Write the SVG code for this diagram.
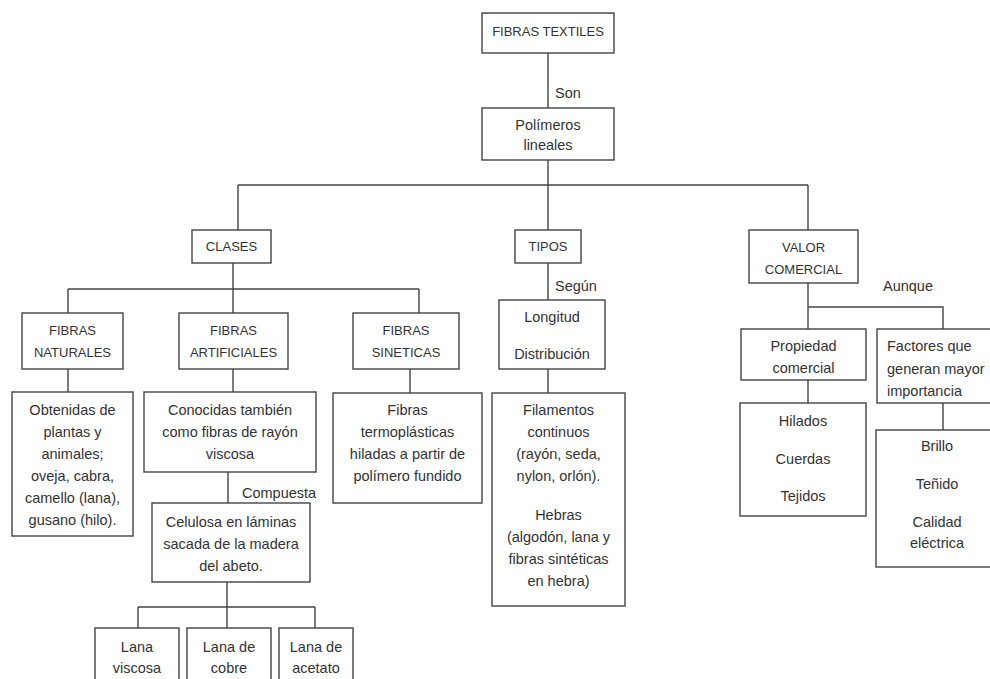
<svg xmlns="http://www.w3.org/2000/svg" width="990" height="679" viewBox="0 0 990 679">
<style>
.b{fill:#fff;stroke:#444;stroke-width:1.4}
.c{fill:none;stroke:#444;stroke-width:1.4}
text{font-family:"Liberation Sans",Arial,sans-serif;font-size:14.5px;fill:#333}
.m{text-anchor:middle}
.k{font-size:13px}
</style>
<rect width="990" height="679" fill="#fff"/>
<g id="connectors" class="c">
<path d="M548 53V108M548 160V185M238 185H808M238 185V230M548 185V230M808 185V230"/>
<path d="M233 263V289M68 289H419M68 289V313M233 289V313M419 289V313"/>
<path d="M68 369V392M233 369V392M228 472V503M227 582V607M138 607H315M138 607V628M227 607V628M315 607V628"/>
<path d="M410 369V393M548 263V300M548 369V393"/>
<path d="M808 283V307H943V329M808 307V329M808 380V403M943 403V430"/>
</g>
<g id="lbl-son"><text x="555" y="98">Son</text></g>
<g id="lbl-segun"><text x="555" y="291">Según</text></g>
<g id="lbl-aunque"><text x="883" y="291">Aunque</text></g>
<g id="lbl-compuesta"><text x="242" y="498">Compuesta</text></g>
<g id="fibras-textiles"><rect class="b" x="482" y="13" width="132" height="40"/><text class="m k" x="548" y="36">FIBRAS TEXTILES</text></g>
<g id="polimeros"><rect class="b" x="482" y="108" width="132" height="52"/><text class="m" x="548" y="130">Polímeros</text><text class="m" x="548" y="150">lineales</text></g>
<g id="clases"><rect class="b" x="192" y="230" width="79" height="33"/><text class="m k" x="231.5" y="251">CLASES</text></g>
<g id="tipos"><rect class="b" x="515" y="230" width="66" height="33"/><text class="m k" x="548" y="251">TIPOS</text></g>
<g id="valor"><rect class="b" x="749" y="230" width="109" height="53"/><text class="m k" x="803.5" y="252">VALOR</text><text class="m k" x="803.5" y="274">COMERCIAL</text></g>
<g id="naturales"><rect class="b" x="22" y="313" width="101" height="56"/><text class="m k" x="72.5" y="335">FIBRAS</text><text class="m k" x="72.5" y="357">NATURALES</text></g>
<g id="artificiales"><rect class="b" x="179" y="313" width="109" height="56"/><text class="m k" x="233.5" y="335">FIBRAS</text><text class="m k" x="233.5" y="357">ARTIFICIALES</text></g>
<g id="sineticas"><rect class="b" x="353" y="313" width="106" height="56"/><text class="m k" x="406" y="335">FIBRAS</text><text class="m k" x="406" y="357">SINETICAS</text></g>
<g id="longitud"><rect class="b" x="499" y="300" width="106" height="69"/><text class="m" x="552" y="322">Longitud</text><text class="m" x="552" y="359">Distribución</text></g>
<g id="propiedad"><rect class="b" x="741" y="329" width="125" height="51"/><text class="m" x="803.5" y="351">Propiedad</text><text class="m" x="803.5" y="373">comercial</text></g>
<g id="factores"><rect class="b" x="877" y="329" width="125" height="74"/><text x="887" y="351">Factores que</text><text x="887" y="374">generan mayor</text><text x="887" y="396">importancia</text></g>
<g id="obtenidas"><rect class="b" x="12" y="392" width="121" height="144"/><text class="m" x="72.5" y="415">Obtenidas de</text><text class="m" x="72.5" y="437">plantas y</text><text class="m" x="72.5" y="459">animales;</text><text class="m" x="72.5" y="481">oveja, cabra,</text><text class="m" x="72.5" y="503">camello (lana),</text><text class="m" x="72.5" y="525">gusano (hilo).</text></g>
<g id="conocidas"><rect class="b" x="144" y="392" width="172" height="80"/><text class="m" x="230" y="415">Conocidas también</text><text class="m" x="230" y="437">como fibras de rayón</text><text class="m" x="230" y="459">viscosa</text></g>
<g id="celulosa"><rect class="b" x="152" y="503" width="158" height="79"/><text class="m" x="231" y="527">Celulosa en láminas</text><text class="m" x="231" y="549">sacada de la madera</text><text class="m" x="231" y="571">del abeto.</text></g>
<g id="lana-viscosa"><rect class="b" x="95" y="628" width="84" height="60"/><text class="m" x="137" y="652">Lana</text><text class="m" x="137" y="673">viscosa</text></g>
<g id="lana-cobre"><rect class="b" x="187" y="628" width="84" height="60"/><text class="m" x="229" y="652">Lana de</text><text class="m" x="229" y="673">cobre</text></g>
<g id="lana-acetato"><rect class="b" x="279" y="628" width="74" height="60"/><text class="m" x="316" y="652">Lana de</text><text class="m" x="316" y="673">acetato</text></g>
<g id="termoplasticas"><rect class="b" x="333" y="393" width="149" height="110"/><text class="m" x="407.5" y="415">Fibras</text><text class="m" x="407.5" y="437">termoplásticas</text><text class="m" x="407.5" y="459">hiladas a partir de</text><text class="m" x="407.5" y="481">polímero fundido</text></g>
<g id="filamentos"><rect class="b" x="492" y="393" width="133" height="213"/><text class="m" x="558.5" y="415">Filamentos</text><text class="m" x="558.5" y="437">continuos</text><text class="m" x="558.5" y="459">(rayón, seda,</text><text class="m" x="558.5" y="481">nylon, orlón).</text><text class="m" x="558.5" y="520">Hebras</text><text class="m" x="558.5" y="542">(algodón, lana y</text><text class="m" x="558.5" y="564">fibras sintéticas</text><text class="m" x="558.5" y="586">en hebra)</text></g>
<g id="hilados"><rect class="b" x="740" y="403" width="126" height="113"/><text class="m" x="803" y="426">Hilados</text><text class="m" x="803" y="464">Cuerdas</text><text class="m" x="803" y="501">Tejidos</text></g>
<g id="brillo"><rect class="b" x="876" y="430" width="125" height="137"/><text class="m" x="937" y="451">Brillo</text><text class="m" x="937" y="489">Teñido</text><text class="m" x="937" y="527">Calidad</text><text class="m" x="937" y="548">eléctrica</text></g>
</svg>
